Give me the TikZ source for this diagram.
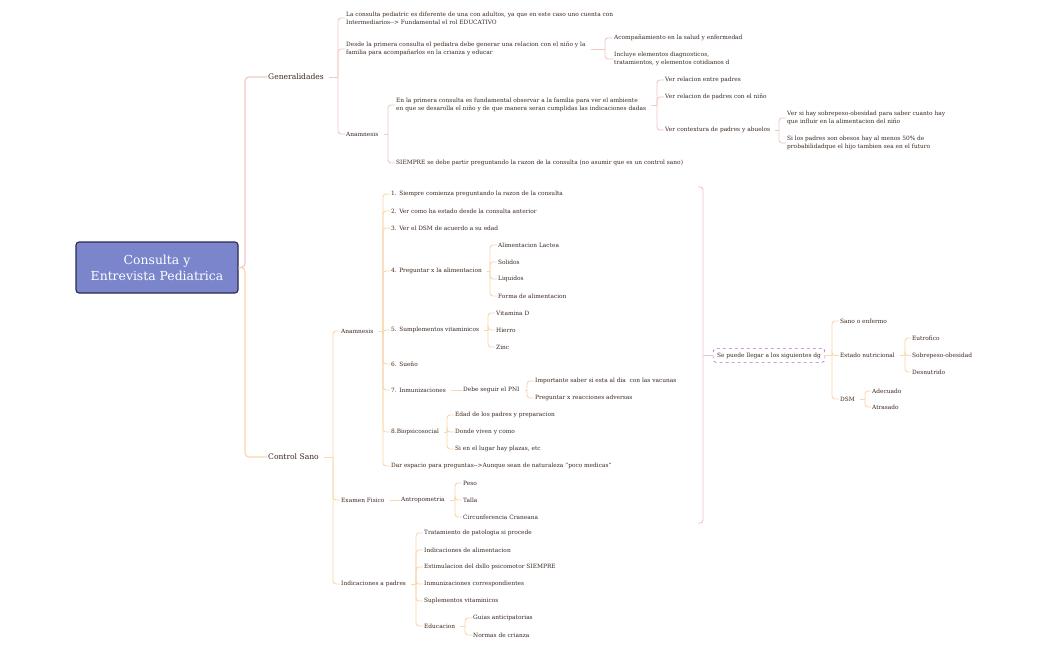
\documentclass[tikz,border=0pt]{standalone}
\usepackage{fontspec}
\setmainfont{DejaVu Serif}
\usetikzlibrary{positioning}
\definecolor{txtcol}{RGB}{58,40,32}
\definecolor{genline}{RGB}{242,200,198}
\definecolor{csline}{RGB}{250,214,172}
\definecolor{sumline}{RGB}{242,190,220}
\definecolor{sumbox}{RGB}{182,108,200}
\definecolor{rootfill}{RGB}{122,133,204}
\definecolor{rootdraw}{RGB}{42,42,82}
% parent -> bracket at x -> children
\newcommand{\branch}[4]{%
  \draw[#1] ([xshift=4pt]#2.east) -- (#2.east -| #3,0) coordinate (#2-br);
  \foreach \ch in {#4} {\draw[#1, rounded corners=3pt] (#2-br) |- (\ch.west);}
}
\begin{document}
\begin{tikzpicture}[x=1pt, y=-1pt,
  txt/.style={anchor=west, inner sep=1pt, text=txtcol, align=left, font=\fontsize{5.85}{8}\selectfont},
  lvone/.style={txt, font=\fontsize{7.6}{9}\selectfont},
  root/.style={rectangle, rounded corners=3pt, draw=rootdraw, line width=1.1pt, fill=rootfill, text=white, align=center, minimum width=162pt, minimum height=51pt, font=\fontsize{12.4}{16}\selectfont},
  sumnode/.style={txt, anchor=center, draw=sumbox, dashed, line width=0.7pt, rounded corners=3pt, fill=white, inner xsep=4pt, inner ysep=4pt},
  gl/.style={draw=genline, line width=0.9pt},
  cl/.style={draw=csline, line width=0.9pt},
  sl/.style={draw=sumline, line width=0.9pt}]
\useasboundingbox (0,0) rectangle (1050,650);
\fill[white] (0,0) rectangle (1050,650);

\node[root] (root) at (157,267.5) {Consulta y\\Entrevista Pediatrica};
\node[lvone] (gen) at (267,77) {Generalidades};
\node[lvone] (cs) at (267,457) {Control Sano};
\draw[gl, line width=1.2pt, rounded corners=4pt] (root.east) -- (245,267.5) |- (gen.west);
\draw[cl, line width=1.2pt, rounded corners=4pt] (root.east) -- (245,267.5) |- (cs.west);

% Generalidades
\node[txt] (ga) at (345,18) {La consulta pediatric es diferente de una con adultos, ya que en este caso uno cuenta con\\Intermediarios-{}-> Fundamental el rol EDUCATIVO};
\node[txt] (gb) at (345,49) {Desde la primera consulta el pediatra debe generar una relacion con el niño y la\\familia para acompañarlos en la crianza y educar};
\node[txt] (gba) at (613,38) {Acompañamiento en la salud y enfermedad};
\node[txt] (gbb) at (613,59) {Incluye elementos diagnosticos,\\tratamientos, y elementos cotidianos d};
\node[txt] (gc) at (345,134) {Anamnesis};
\node[txt] (gca) at (395,105) {En la primera consulta es fundamental observar a la familia para ver el ambiente\\en que se desarolla el niño y de que manera seran cumplidas las indicaciones dadas};
\node[txt] (gcaa) at (664,80) {Ver relacion entre padres};
\node[txt] (gcab) at (664,97) {Ver relacion de padres con el niño};
\node[txt] (gcac) at (664,130) {Ver contextura de padres y abuelos};
\node[txt] (gcaca) at (786,118) {Ver si hay sobrepeso-obesidad para saber cuanto hay\\que influir en la alimentacion del niño};
\node[txt] (gcacb) at (786,143) {Si los padres son obesos hay al menos 50\% de\\probabilidadque el hijo tambien sea en el futuro};
\node[txt] (gcb) at (395,163) {SIEMPRE se debe partir preguntando la razon de la consulta (no asumir que es un control sano)};
\branch{gl}{gen}{338}{ga,gb,gc}
\branch{gl}{gb}{605}{gba,gbb}
\branch{gl}{gc}{388}{gca,gcb}
\branch{gl}{gca}{657}{gcaa,gcab,gcac}
\branch{gl}{gcac}{779}{gcaca,gcacb}

% Control Sano
\node[txt] (ana) at (340,331) {Anamnesis};
\node[txt] (ef) at (340,500) {Examen Fisico};
\node[txt] (ip) at (340,584) {Indicaciones a padres};
\node[txt] (a1) at (390,194) {1. Siempre comienza preguntando la razon de la consulta};
\node[txt] (a2) at (390,211) {2. Ver como ha estado desde la consulta anterior};
\node[txt] (a3) at (390,228) {3. Ver el DSM de acuerdo a su edad};
\node[txt] (a4) at (390,271) {4. Preguntar x la alimentacion};
\node[txt] (a5) at (390,330) {5. Sumplementos vitaminicos};
\node[txt] (a6) at (390,364) {6. Sueño};
\node[txt] (a7) at (390,390) {7. Inmunizaciones};
\node[txt] (a8) at (390,432) {8.Biopsicosocial};
\node[txt] (a9) at (390,466) {Dar espacio para preguntas-{}->Aunque sean de naturaleza "poco medicas"};
\node[txt] (a4a) at (497,245) {Alimentacion Lactea};
\node[txt] (a4b) at (497,262) {Solidos};
\node[txt] (a4c) at (497,279) {Liquidos};
\node[txt] (a4d) at (497,296) {Forma de alimentacion};
\node[txt] (a5a) at (495,313) {Vitamina D};
\node[txt] (a5b) at (495,330) {Hierro};
\node[txt] (a5c) at (495,347) {Zinc};
\node[txt] (pni) at (462,390) {Debe seguir el PNI};
\node[txt] (pnia) at (534,381) {Importante saber si esta al dia~ con las vacunas};
\node[txt] (pnib) at (534,398) {Preguntar x reacciones adversas};
\node[txt] (a8a) at (454,415) {Edad de los padres y preparacion};
\node[txt] (a8b) at (454,432) {Donde viven y como};
\node[txt] (a8c) at (454,449) {Si en el lugar hay plazas, etc};
\node[txt] (ant) at (400,500) {Antropometria};
\node[txt] (anta) at (462,483) {Peso};
\node[txt] (antb) at (462,500) {Talla};
\node[txt] (antc) at (462,517) {Circunferencia Craneana};
\node[txt] (ip1) at (423,533) {Tratamiento de patologia si procede};
\node[txt] (ip2) at (423,550) {Indicaciones de alimentacion};
\node[txt] (ip3) at (423,567) {Estimulacion del dsllo psicomotor SIEMPRE};
\node[txt] (ip4) at (423,584) {Inmunizaciones correspondientes};
\node[txt] (ip5) at (423,601) {Suplementos vitaminicos};
\node[txt] (edu) at (423,626) {Educacion};
\node[txt] (edua) at (472,618) {Guias anticipatorias};
\node[txt] (edub) at (472,635) {Normas de crianza};
\branch{cl}{cs}{333}{ana,ef,ip}
\branch{cl}{ana}{383}{a1,a2,a3,a4,a5,a6,a7,a8,a9}
\branch{cl}{a4}{490}{a4a,a4b,a4c,a4d}
\branch{cl}{a5}{488}{a5a,a5b,a5c}
\draw[cl] ([xshift=4pt]a7.east) -- (pni.west);
\branch{cl}{pni}{527}{pnia,pnib}
\branch{cl}{a8}{447}{a8a,a8b,a8c}
\draw[cl] ([xshift=4pt]ef.east) -- (ant.west);
\branch{cl}{ant}{455}{anta,antb,antc}
\branch{cl}{ip}{416}{ip1,ip2,ip3,ip4,ip5,edu}
\branch{cl}{edu}{465}{edua,edub}

% resumen
\node[sumnode] (dg) at (769,355.5) {Se puede llegar a los siguientes dg};
\coordinate (sumtop) at (698,187);
\coordinate (sumbot) at (698,523);
\draw[sl, rounded corners=3pt] (sumtop) -- (703,187) -- (703,523) -- (sumbot);
\draw[sl] (703,355.5) -- (dg.west);
\node[txt] (sano) at (839,321) {Sano o enfermo};
\node[txt] (en) at (839,355.5) {Estado nutricional};
\node[txt] (dsm) at (839,399) {DSM};
\node[txt] (eu) at (911,338) {Eutrofico};
\node[txt] (so) at (911,355.5) {Sobrepeso-obesidad};
\node[txt] (de) at (911,372) {Desnutrido};
\node[txt] (ade) at (871,391) {Adecuado};
\node[txt] (atr) at (871,407) {Atrasado};
\draw[cl] (dg.east) -- (832,355.5) coordinate (dg-br);
\foreach \ch in {sano,en,dsm} {\draw[cl, rounded corners=3pt] (dg-br) |- (\ch.west);}
\branch{cl}{en}{905}{eu,so,de}
\branch{cl}{dsm}{865}{ade,atr}
\end{tikzpicture}
\end{document}
